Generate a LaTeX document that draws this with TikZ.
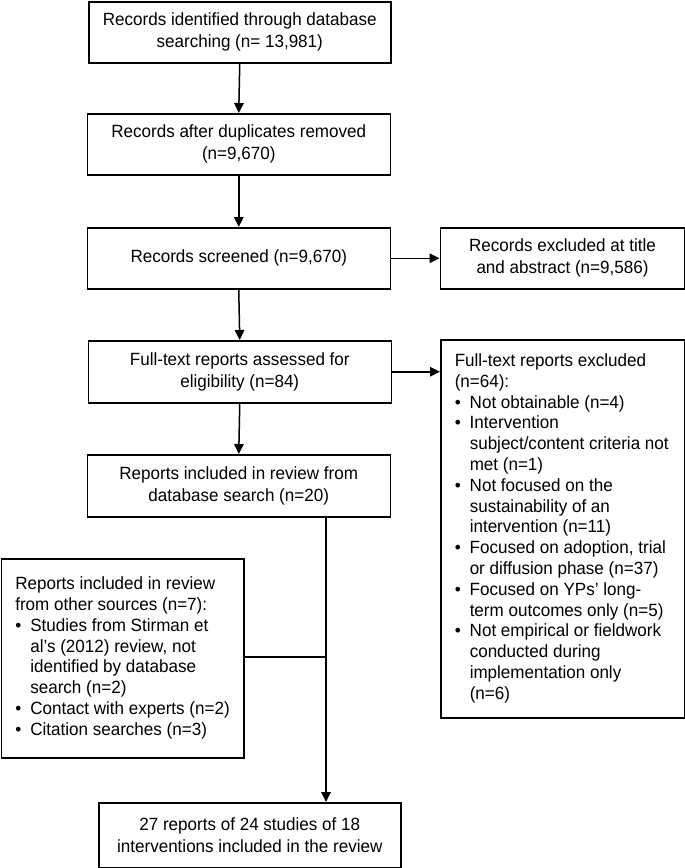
\documentclass[tikz,border=0pt]{standalone}
\usepackage{fontspec}
\setmainfont[FakeStretch=0.963]{Liberation Sans}
\usetikzlibrary{arrows.meta}
\newcommand\bl{\makebox[15pt][l]{\textbullet}}
\begin{document}
\begin{tikzpicture}[x=1pt,y=1pt,
  box/.style={draw, line width=1.5pt, anchor=north west, inner sep=0pt, align=center, font=\fontsize{17.7}{22}\selectfont},
  listbox/.style={draw, line width=1.5pt, anchor=north west, inner sep=0pt, font=\fontsize{17.7}{20.8}\selectfont},
  arr/.style={line width=1.5pt, -{Triangle[length=10pt,width=9.5pt]}},
  ln/.style={line width=1.5pt}]
\useasboundingbox (0,0) rectangle (685,-868);

\node[box, minimum width=302pt, minimum height=61pt] (b1) at (88,-1)
  {Records identified through database\\searching (n= 13,981)};
\node[box, minimum width=303pt, minimum height=61pt] (b2) at (86.5,-113)
  {Records after duplicates removed\\(n=9,670)};
\node[box, minimum width=303pt, minimum height=61pt] (b3) at (86.5,-227)
  {Records screened (n=9,670)};
\node[box, minimum width=244.5pt, minimum height=61pt] (r1) at (439.5,-227)
  {Records excluded at title\\and abstract (n=9,586)};
\node[box, minimum width=303pt, minimum height=62pt] (b4) at (87.5,-340)
  {Full-text reports assessed for\\eligibility (n=84)};
\node[listbox, minimum width=244pt, minimum height=378pt] (r2) at (440,-339)
  {\makebox[216pt][l]{\begin{tabular}{@{}l@{}l@{}}
  \multicolumn{2}{@{}l@{}}{Full-text reports excluded}\\
  \multicolumn{2}{@{}l@{}}{(n=64):}\\
  \bl & Not obtainable (n=4)\\
  \bl & Intervention\\
      & subject/content criteria not\\
      & met (n=1)\\
  \bl & Not focused on the\\
      & sustainability of an\\
      & intervention (n=11)\\
  \bl & Focused on adoption, trial\\
      & or diffusion phase (n=37)\\
  \bl & Focused on YPs’ long-\\
      & term outcomes only (n=5)\\
  \bl & Not empirical or fieldwork\\
      & conducted during\\
      & implementation only\\
      & (n=6)
  \end{tabular}}};
\node[box, minimum width=303pt, minimum height=62pt] (b5) at (86.5,-454)
  {Reports included in review from\\database search (n=20)};
\node[listbox, minimum width=242.5pt, minimum height=199pt] (l1) at (0.8,-558)
  {\makebox[215pt][l]{\begin{tabular}{@{}l@{}l@{}}
  \multicolumn{2}{@{}l@{}}{Reports included in review}\\
  \multicolumn{2}{@{}l@{}}{from other sources (n=7):}\\
  \bl & Studies from Stirman et\\
      & al’s (2012) review, not\\
      & identified by database\\
      & search (n=2)\\
  \bl & Contact with experts (n=2)\\
  \bl & Citation searches (n=3)
  \end{tabular}}};
\node[box, minimum width=302pt, minimum height=65pt] (fin) at (98,-802)
  {27 reports of 24 studies of 18\\interventions included in the review};

\coordinate (j) at (326,-657);

\draw[arr] (b1.south) -- (b2.north);
\draw[arr] (b2.south) -- (b3.north);
\draw[arr] (b3.east) -- (r1.west);
\draw[arr] (b3.south) -- (b4.north);
\draw[arr] (b4.east) -- (b4.east -| r2.west);
\draw[arr] (b4.south) -- (b5.north);
\draw[ln] (b5.south -| j) -- (j);
\draw[ln] (l1.east |- j) -- (j);
\draw[arr] (j) -- (fin.north -| j);
\end{tikzpicture}
\end{document}
